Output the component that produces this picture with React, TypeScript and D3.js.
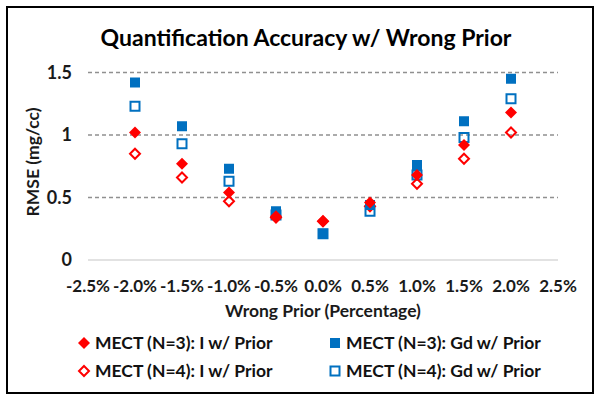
import React from "react";
import * as d3 from "d3";

const xTicks = [-2.5, -2.0, -1.5, -1.0, -0.5, 0.0, 0.5, 1.0, 1.5, 2.0, 2.5];
const yTicks = [0, 0.5, 1, 1.5];
const priors = [-2.0, -1.5, -1.0, -0.5, 0.0, 0.5, 1.0, 1.5, 2.0];
const iN3 = [1.02, 0.77, 0.54, 0.35, 0.31, 0.46, 0.68, 0.92, 1.18];
const iN4 = [0.85, 0.66, 0.47, 0.34, 0.31, 0.43, 0.61, 0.81, 1.02];
const gdN3 = [1.42, 1.07, 0.73, 0.39, 0.21, 0.44, 0.76, 1.11, 1.45];
const gdN4 = [1.23, 0.93, 0.63, 0.36, 0.21, 0.39, 0.68, 0.98, 1.29];
const legendLabels = [
  "MECT (N=3): I w/ Prior",
  "MECT (N=3): Gd w/ Prior",
  "MECT (N=4): I w/ Prior",
  "MECT (N=4): Gd w/ Prior",
];

const RED = "#FF0000";
const BLUE = "#0070C0";
const FONT = "Lato, 'Open Sans', sans-serif";

type Kind = "diamondFill" | "diamondOpen" | "squareFill" | "squareOpen";

function Marker({ x, y, kind }: { x: number; y: number; kind: Kind }) {
  if (kind === "squareFill") {
    return <rect x={x - 5} y={y - 5} width={10} height={10} fill={BLUE} />;
  }
  if (kind === "squareOpen") {
    return <rect x={x - 4.5} y={y - 4.5} width={9} height={9} fill="none" stroke={BLUE} strokeWidth={2} />;
  }
  const r = kind === "diamondFill" ? 6 : 5;
  const p = `M${x},${y - r}L${x + r},${y}L${x},${y + r}L${x - r},${y}Z`;
  if (kind === "diamondFill") return <path d={p} fill={RED} />;
  return <path d={p} fill="none" stroke={RED} strokeWidth={2} />;
}

export default function App() {
  const W = 601, H = 401;
  const x = d3.scaleLinear().domain([-2.5, 2.5]).range([88, 558]);
  const y = d3.scaleLinear().domain([0, 1.5]).range([260, 72.5]);
  const series: { vals: number[]; kind: Kind }[] = [
    { vals: gdN4, kind: "squareOpen" },
    { vals: iN4, kind: "diamondOpen" },
    { vals: gdN3, kind: "squareFill" },
    { vals: iN3, kind: "diamondFill" },
  ];
  const legendKinds: Kind[] = ["diamondFill", "squareFill", "diamondOpen", "squareOpen"];
  const legendPos = [
    [84, 343], [335, 343], [84, 371], [335, 371],
  ];
  return (
    <svg width={W} height={H} style={{ position: "absolute", left: 0, top: 0, fontFamily: FONT }}>
      <rect x={0} y={0} width={W} height={H} fill="white" />
      <rect x={7} y={7} width={586} height={386} fill="white" stroke="black" strokeWidth={2} />
      <text x={306} y={46} textAnchor="middle" fontSize={23} fontWeight="bold" fill="#000">
        Quantification Accuracy w/ Wrong Prior
      </text>
      {yTicks.map((t) => (
        <g key={t}>
          <line
            x1={88} x2={558} y1={y(t)} y2={y(t)}
            stroke={t === 0 ? "#D9D9D9" : "#909090"}
            strokeWidth={1.5}
            strokeDasharray={t === 0 ? undefined : "4,3"}
          />
          <text x={72} y={y(t)} dy="0.35em" textAnchor="end" fontSize={18} fontWeight="bold" fill="#1a1a1a">
            {String(t)}
          </text>
        </g>
      ))}
      {xTicks.map((t) => (
        <text key={t} x={x(t)} y={292} textAnchor="middle" fontSize={17} fontWeight="bold" fill="#1a1a1a">
          {t.toFixed(1) + "%"}
        </text>
      ))}
      <text x={323} y={317} textAnchor="middle" fontSize={17.5} fontWeight="bold" fill="#1a1a1a">
        Wrong Prior (Percentage)
      </text>
      <text transform="translate(39,162) rotate(-90)" textAnchor="middle" fontSize={17.5} fontWeight="bold" fill="#1a1a1a">
        RMSE (mg/cc)
      </text>
      {series.map((s, si) =>
        s.vals.map((v, i) => <Marker key={si + "-" + i} x={x(priors[i])} y={y(v)} kind={s.kind} />)
      )}
      {legendLabels.map((l, i) => (
        <g key={l}>
          <Marker x={legendPos[i][0]} y={legendPos[i][1]} kind={legendKinds[i]} />
          <text x={legendPos[i][0] + 11} y={legendPos[i][1]} dy="0.35em" fontSize={17.5} fontWeight="bold" fill="#111">
            {l}
          </text>
        </g>
      ))}
    </svg>
  );
}
